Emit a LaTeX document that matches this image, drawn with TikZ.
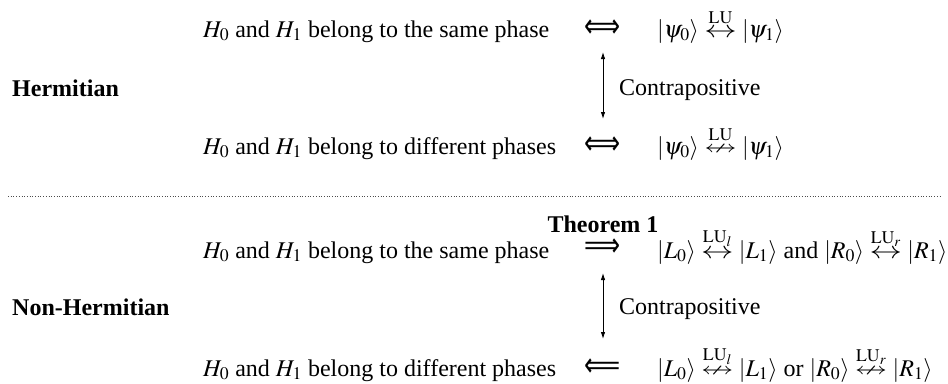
\documentclass[tikz,border=0pt]{standalone}
\usepackage{amsmath,amssymb}
\usepackage{mathptmx}
\usepackage{graphicx}
\usepackage{fontspec}
\setmainfont{Liberation Serif}
\newfontfamily\arrfont{DejaVu Sans}
\usetikzlibrary{arrows.meta}
\newcommand{\luarr}[1]{\mathrel{\overset{#1}{\scalebox{1.35}[1]{$\leftrightarrow$}}}}
\newcommand{\lunarr}[1]{\mathrel{\overset{#1}{\scalebox{1.35}[1]{$\nleftrightarrow$}}}}
\newcommand{\bigarr}[1]{\scalebox{1.05}[1.4]{\arrfont #1}}
\tikzset{
  base/.style={inner sep=0pt, font=\fontsize{24}{28}\selectfont},
  lbl/.style={base, anchor=base west, font=\fontsize{24}{28}\selectfont\bfseries},
  txt/.style={base, anchor=base west},
  rel/.style={base, anchor=center},
  thm/.style={base, anchor=base, font=\fontsize{24}{28}\selectfont\bfseries},
  dbl/.style={{Latex[length=7pt,width=4.5pt]}-{Latex[length=7pt,width=4.5pt]}, line width=0.9pt},
  sep/.style={dotted, line width=0.7pt, black!70}
}
\begin{document}
\begin{tikzpicture}[x=1pt,y=-1pt]
\useasboundingbox (0,0) rectangle (948,383);
% Hermitian
\node[lbl] (herm) at (12,96) {Hermitian};
\node[txt] (a1) at (203,37) {$H_0$ and $H_1$ belong to the same phase};
\node[rel] (iff1) at (603,29) {\bigarr{⟺}};
\node[txt] (b1) at (657,37) {$\lvert\psi_0\rangle\luarr{\mathrm{LU}}\lvert\psi_1\rangle$};
\node[txt] (c1) at (619,95) {Contrapositive};
\node[txt] (a2) at (203,154) {$H_0$ and $H_1$ belong to different phases};
\node[rel] (iff2) at (603,146) {\bigarr{⟺}};
\node[txt] (b2) at (657,154) {$\lvert\psi_0\rangle\lunarr{\mathrm{LU}}\lvert\psi_1\rangle$};
\draw[dbl, shorten <=23pt, shorten >=27pt] (iff1.center) -- (iff2.center);
% separator
\coordinate (d1) at (8,196);
\coordinate (d2) at (940,196);
\draw[sep] (d1) -- (d2);
% Non-Hermitian
\node[lbl] (nh) at (12,315) {Non-Hermitian};
\node[txt] (a3) at (203,258) {$H_0$ and $H_1$ belong to the same phase};
\node[rel] (imp) at (603,248) {\bigarr{⟹}};
\node[thm] (th) at (603,232) {Theorem 1};
\node[txt] (b3) at (657,258) {$\lvert L_0\rangle\luarr{\mathrm{LU}_l}\lvert L_1\rangle$ and $\lvert R_0\rangle\luarr{\mathrm{LU}_r}\lvert R_1\rangle$};
\node[txt] (c2) at (619,314) {Contrapositive};
\node[txt] (a4) at (203,376) {$H_0$ and $H_1$ belong to different phases};
\node[rel] (impl) at (603,368) {\bigarr{⟸}};
\node[txt] (b4) at (657,376) {$\lvert L_0\rangle\lunarr{\mathrm{LU}_l}\lvert L_1\rangle$ or $\lvert R_0\rangle\lunarr{\mathrm{LU}_r}\lvert R_1\rangle$};
\draw[dbl, shorten <=25pt, shorten >=29pt] (imp.center) -- (impl.center);
\end{tikzpicture}
\end{document}
